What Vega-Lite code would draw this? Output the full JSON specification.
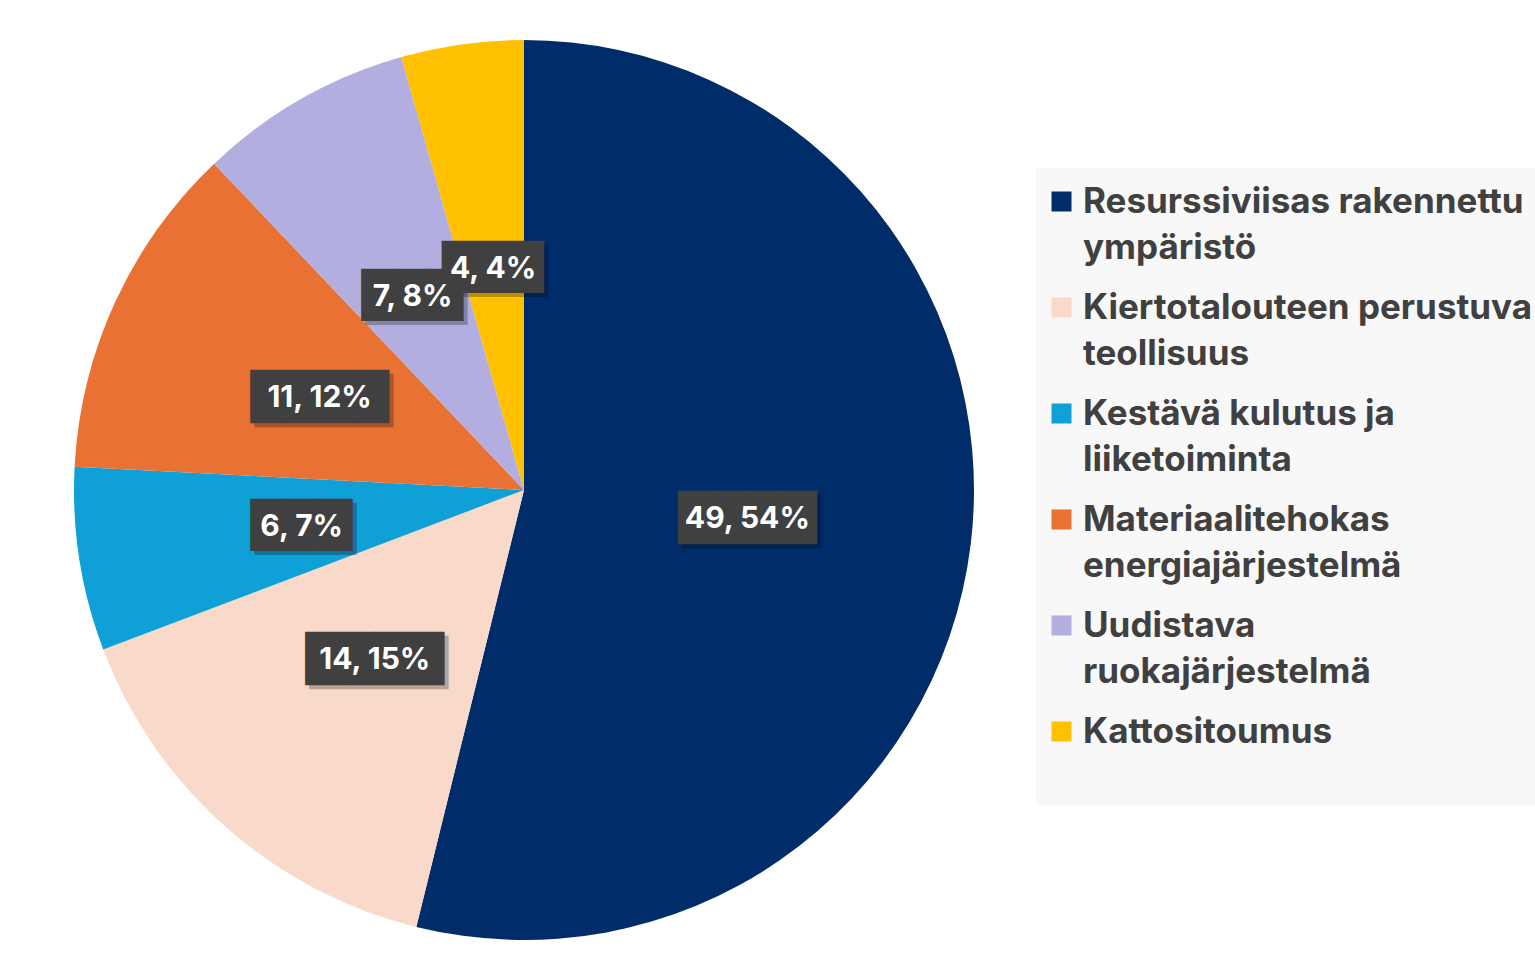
{
  "$schema": "https://vega.github.io/schema/vega-lite/v6.json",
  "width": 1048,
  "height": 944,
  "padding": {"left": 0, "top": 18, "right": 0, "bottom": 0},
  "background": "white",
  "config": {
    "view": {"stroke": null},
    "style": {"guide-label": {"lineHeight": 46}}
  },
  "data": {
    "values": [
      {"category": "Resurssiviisas rakennettu ympäristö", "value": 49, "label": "49, 54%"},
      {"category": "Kiertotalouteen perustuva teollisuus", "value": 14, "label": "14, 15%"},
      {"category": "Kestävä kulutus ja liiketoiminta", "value": 6, "label": "6, 7%"},
      {"category": "Materiaalitehokas energiajärjestelmä", "value": 11, "label": "11, 12%"},
      {"category": "Uudistava ruokajärjestelmä", "value": 7, "label": "7, 8%"},
      {"category": "Kattositoumus", "value": 4, "label": "4, 4%"}
    ]
  },
  "transform": [
    {"window": [{"op": "row_number", "as": "idx"}]},
    {"calculate": "length(datum.label) > 5 ? '████' : '███'", "as": "box"}
  ],
  "encoding": {
    "theta": {"field": "value", "type": "quantitative", "stack": true},
    "order": {"field": "idx", "type": "quantitative"}
  },
  "layer": [
    {
      "mark": {"type": "arc", "outerRadius": 450},
      "encoding": {
        "color": {
          "field": "category",
          "type": "nominal",
          "scale": {
            "domain": ["Resurssiviisas rakennettu ympäristö", "Kiertotalouteen perustuva teollisuus", "Kestävä kulutus ja liiketoiminta", "Materiaalitehokas energiajärjestelmä", "Uudistava ruokajärjestelmä", "Kattositoumus"],
            "range": ["#002D6A", "#F9D9C9", "#10A0D8", "#E97133", "#B3AEE0", "#FFC000"]
          },
          "legend": {
            "orient": "none",
            "legendX": 1036,
            "legendY": 150,
            "title": " ",
            "titleOrient": "bottom",
            "titleFontSize": 30,
            "titlePadding": 10,
            "fillColor": "#F8F8F8",
            "padding": 16,
            "symbolType": "square",
            "symbolSize": 400,
            "symbolStrokeWidth": 0,
            "symbolOffset": -8,
            "labelFont": "Inter",
            "labelFontSize": 35,
            "labelFontWeight": "bold",
            "labelColor": "#404040",
            "labelLimit": 0,
            "labelOffset": 4,
            "rowPadding": 24,
            "labelExpr": "datum.label == 'Resurssiviisas rakennettu ympäristö' ? ['Resurssiviisas rakennettu', 'ympäristö'] : datum.label == 'Kiertotalouteen perustuva teollisuus' ? ['Kiertotalouteen perustuva', 'teollisuus'] : datum.label == 'Kestävä kulutus ja liiketoiminta' ? ['Kestävä kulutus ja', 'liiketoiminta'] : datum.label == 'Materiaalitehokas energiajärjestelmä' ? ['Materiaalitehokas', 'energiajärjestelmä'] : datum.label == 'Uudistava ruokajärjestelmä' ? ['Uudistava', 'ruokajärjestelmä'] : datum.label"
          }
        }
      }
    },
    {
      "mark": {"type": "text", "radius": 225, "font": "DejaVu Sans", "color": "#000000", "opacity": 0.25, "dx": 4, "dy": 6, "baseline": "middle"},
      "encoding": {
        "text": {"field": "box"},
        "size": {"condition": {"test": "length(datum.label) > 5", "value": 45}, "value": 44}
      }
    },
    {
      "mark": {"type": "text", "radius": 225, "font": "DejaVu Sans", "color": "#404040", "baseline": "middle", "dy": 2},
      "encoding": {
        "text": {"field": "box"},
        "size": {"condition": {"test": "length(datum.label) > 5", "value": 45}, "value": 44}
      }
    },
    {
      "mark": {"type": "text", "radius": 225, "font": "Inter", "fontWeight": "bold", "fontSize": 30, "color": "#FFFFFF", "baseline": "middle", "dy": 2},
      "encoding": {"text": {"field": "label"}}
    }
  ]
}
